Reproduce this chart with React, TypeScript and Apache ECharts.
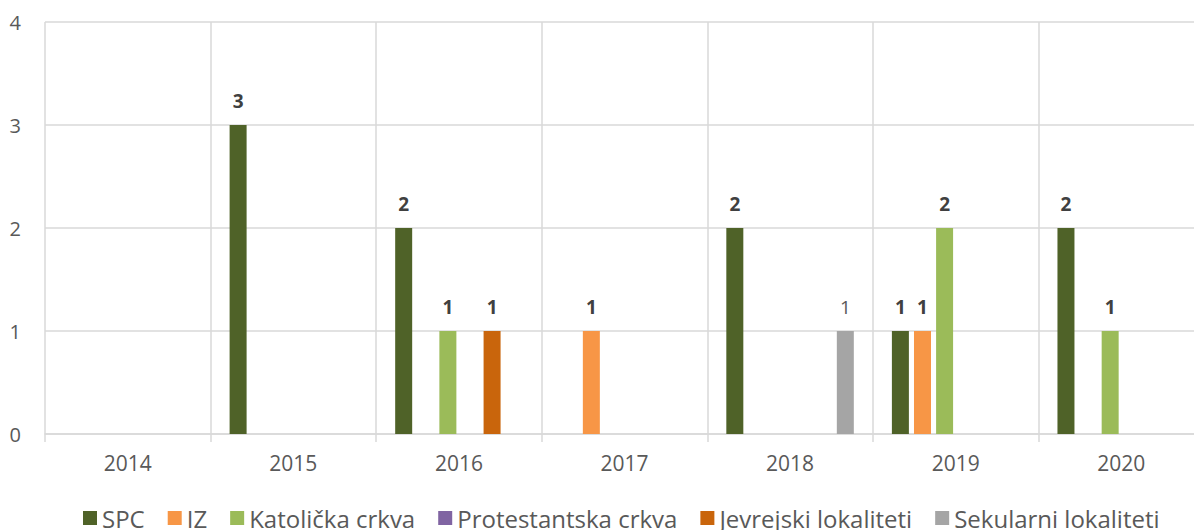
import React, { useEffect, useRef } from "react";
import * as echarts from "echarts";

const categories = ["2014", "2015", "2016", "2017", "2018", "2019", "2020"];
const seriesNames = [
  "SPC",
  "IZ",
  "Katolička crkva",
  "Protestantska crkva",
  "Jevrejski lokaliteti",
  "Sekularni lokaliteti",
];
const spc = [null, 3, 2, null, 2, 1, 2];
const iz = [null, null, null, 1, null, 1, null];
const katolicka = [null, null, 1, null, null, 2, 1];
const protestantska = [null, null, null, null, null, null, null];
const jevrejski = [null, null, 1, null, null, null, null];
const sekularni = [null, null, null, null, 1, null, null];
const colors = ["#4F6228", "#F79646", "#9BBB59", "#8064A2", "#C9650C", "#A5A5A5"];
const yTicks = [0, 1, 2, 3, 4];

const FONT = "'Open Sans', 'Noto Sans', sans-serif";

export default function App() {
  const ref = useRef<HTMLDivElement>(null);
  useEffect(() => {
    if (!ref.current) return;
    const chart = echarts.init(ref.current, null, { renderer: "svg" });
    const allData = [spc, iz, katolicka, protestantska, jevrejski, sekularni];
    const series = allData.map((d, i) => ({
      name: seriesNames[i],
      type: "bar",
      data: d,
      barWidth: 17,
      barGap: "30%",
      itemStyle: { color: colors[i] },
      label: {
        show: true,
        position: "top",
        distance: 15,
        fontFamily: FONT,
        fontSize: 19,
        fontWeight: i === 5 ? "normal" : "bold",
        color: i === 5 ? "#595959" : "#404040",
      },
    }));
    chart.setOption({
      animation: false,
      textStyle: { fontFamily: FONT },
      grid: {
        left: 45,
        top: 22,
        width: 1159,
        bottom: 96,
        containLabel: false,
        outerBoundsMode: "none",
      },
      legend: {
        data: seriesNames,
        left: 78,
        top: 501,
        itemWidth: 14,
        itemHeight: 14,
        itemGap: 23,
        icon: "rect",
        textStyle: { fontFamily: FONT, fontSize: 24, color: "#595959" },
      },
      xAxis: {
        type: "category",
        data: categories,
        boundaryGap: true,
        axisLine: { show: true, lineStyle: { color: "#D9D9D9", width: 1.5 } },
        axisTick: { show: true, length: 8, interval: 0, lineStyle: { color: "#D9D9D9", width: 1.5 } },
        splitLine: { show: true, interval: 0, lineStyle: { color: "#D9D9D9", width: 1.5 } },
        axisLabel: { fontFamily: FONT, fontSize: 21, color: "#595959", margin: 18 },
      },
      yAxis: {
        type: "value",
        min: yTicks[0],
        max: yTicks[yTicks.length - 1],
        interval: 1,
        axisLine: { show: false },
        axisTick: { show: false },
        splitLine: { show: true, lineStyle: { color: "#D9D9D9", width: 1.5 } },
        axisLabel: { fontFamily: FONT, fontSize: 20, color: "#595959", margin: 24 },
      },
      series,
    });
    return () => chart.dispose();
  }, []);
  return (
    <div
      ref={ref}
      style={{ position: "fixed", left: 0, top: 0, width: 1194, height: 530, background: "#fff" }}
    />
  );
}
